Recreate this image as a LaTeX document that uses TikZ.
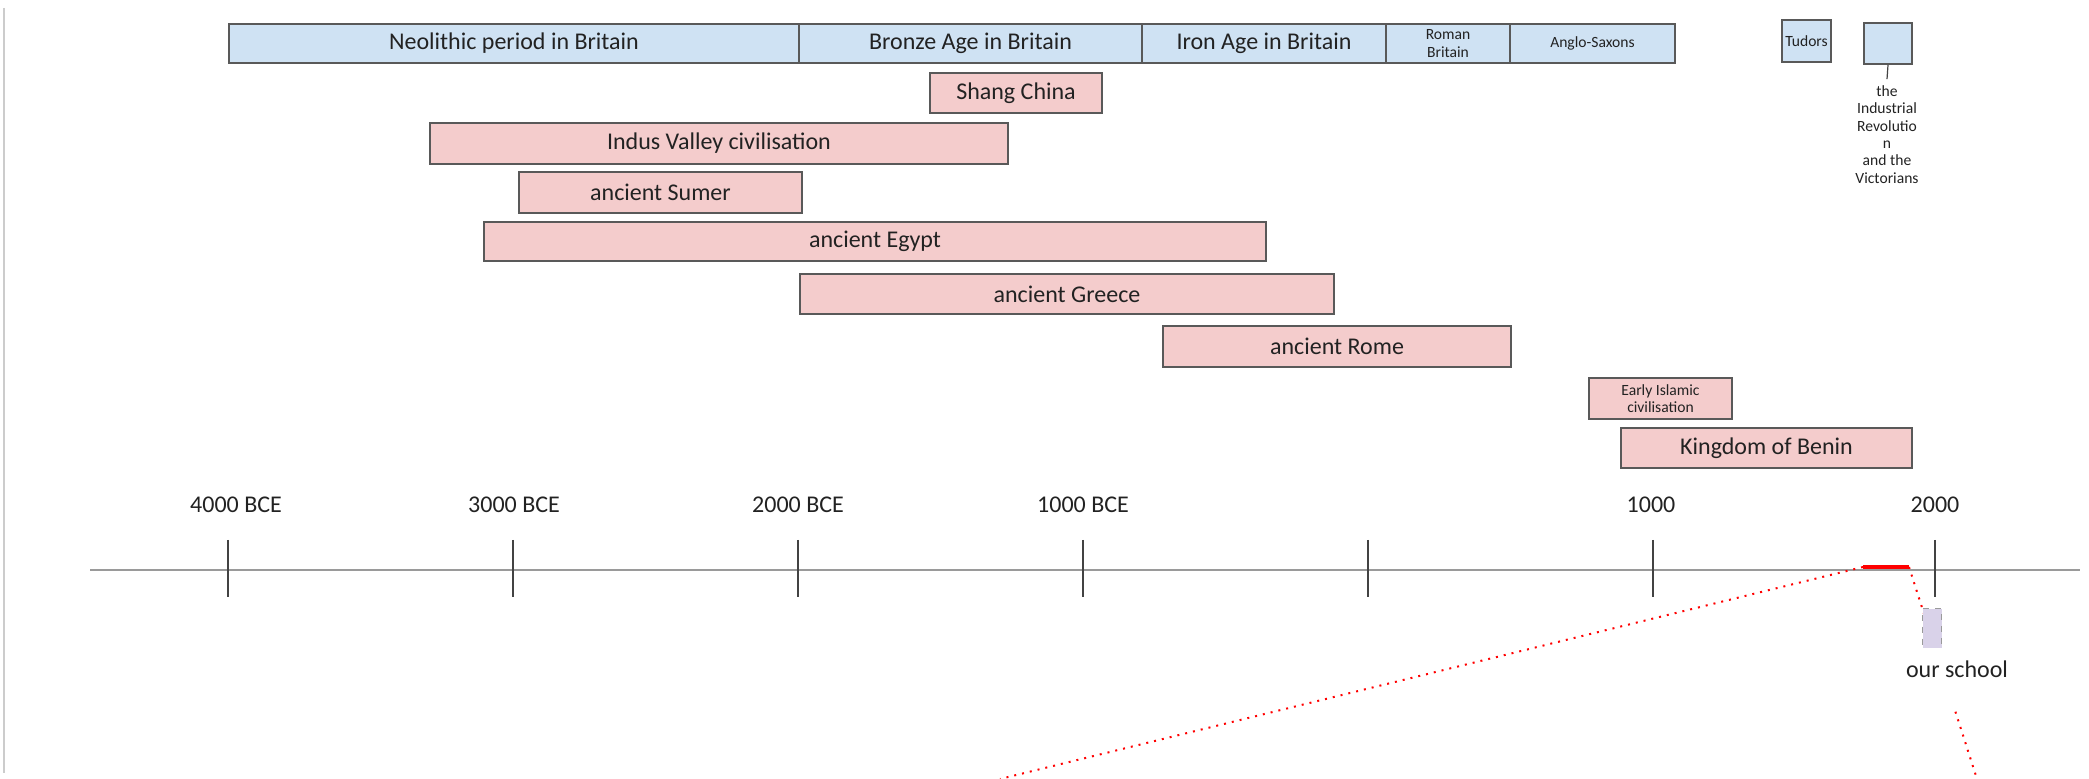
\documentclass[tikz,border=0pt]{standalone}
\usepackage{fontspec}
\setmainfont{Carlito}
\definecolor{bluefill}{HTML}{CFE2F3}
\definecolor{pinkfill}{HTML}{F4CCCC}
\definecolor{lavfill}{HTML}{D9D2E9}
\definecolor{boxline}{HTML}{595959}
\definecolor{txt}{HTML}{222222}
\definecolor{axisgray}{HTML}{9A9A9A}
\definecolor{tickgray}{HTML}{434343}
\definecolor{edgegray}{HTML}{CCCCCC}
\definecolor{redline}{HTML}{FF0000}
\tikzset{
  bigfont/.style={font=\fontsize{12}{14}\selectfont},
  smallfont/.style={font=\fontsize{7.8}{8.7}\selectfont},
  era/.style={draw=boxline, line width=1pt, inner sep=0pt, anchor=north west, text=txt, align=center},
  britain/.style={era, fill=bluefill},
  world/.style={era, fill=pinkfill},
  yearlabel/.style={bigfont, text=txt, inner sep=0pt, anchor=center},
  tickmark/.style={draw=tickgray, line width=0.6pt},
  axisline/.style={draw=axisgray, line width=1.3pt},
  zoomline/.style={draw=redline, line width=1pt, dash pattern=on 1pt off 3pt},
  nowmark/.style={draw=redline, line width=2pt},
}
\begin{document}
\begin{tikzpicture}[x=0.5pt,y=-0.5pt]
\useasboundingbox (0,0) rectangle (2089,779);
% left edge line
\coordinate (edgeT) at (4,8);
\coordinate (edgeB) at (4,773);
\draw[draw=edgegray, line width=1pt] (edgeT) -- (edgeB);

% Britain periods
\node[britain, bigfont, minimum width=285pt, minimum height=19.5pt] (neo) at (228,23) {Neolithic period in Britain};
\node[britain, bigfont, minimum width=171.5pt, minimum height=19.5pt] (bronze) at (798,23) {Bronze Age in Britain};
\node[britain, bigfont, minimum width=122pt, minimum height=19.5pt] (iron) at (1141,23) {Iron Age in Britain};
\node[britain, smallfont, minimum width=62pt, minimum height=19.5pt] (roman) at (1385,23) {Roman\\Britain};
\node[britain, smallfont, minimum width=82.5pt, minimum height=19.5pt] (anglo) at (1509,23) {Anglo-Saxons};
\node[britain, smallfont, minimum width=24.5pt, minimum height=21pt] (tudors) at (1781,19) {Tudors};
\node[britain, minimum width=24pt, minimum height=20.5pt] (indrev) at (1863,22) {};
\node[smallfont, text=txt, align=center, inner sep=3pt, anchor=center] (indtxt) at (1887,134.5)
  {the\\Industrial\\Revolutio\\n\\and the\\Victorians};
\draw[draw=tickgray, line width=0.6pt] (indrev.south) -- (indtxt.north);

% world civilisations
\node[world, bigfont, minimum width=86pt, minimum height=20pt] (shang) at (929,72) {Shang China};
\node[world, bigfont, minimum width=289pt, minimum height=20.5pt] (indus) at (429,122) {Indus Valley civilisation};
\node[world, bigfont, minimum width=141.5pt, minimum height=20.5pt] (sumer) at (518,171) {ancient Sumer};
\node[world, bigfont, minimum width=391pt, minimum height=19.5pt] (egypt) at (483,221) {ancient Egypt};
\node[world, bigfont, minimum width=267pt, minimum height=20pt] (greece) at (799,273) {ancient Greece};
\node[world, bigfont, minimum width=174pt, minimum height=20.5pt] (rome) at (1162,325) {ancient Rome};
\node[world, smallfont, minimum width=71.5pt, minimum height=20.5pt] (islamic) at (1588,377) {Early Islamic\\civilisation};
\node[world, bigfont, minimum width=145.5pt, minimum height=20pt] (benin) at (1620,427) {Kingdom of Benin};

% year labels
\node[yearlabel] (y4000) at (236,505) {4000 BCE};
\node[yearlabel] (y3000) at (514,505) {3000 BCE};
\node[yearlabel] (y2000) at (798,505) {2000 BCE};
\node[yearlabel] (y1000) at (1083,505) {1000 BCE};
\node[yearlabel] (yp1000) at (1651,505) {1000};
\node[yearlabel] (yp2000) at (1935,505) {2000};

% axis
\coordinate (axL) at (90,570);
\coordinate (axR) at (2080,570);
\draw[axisline] (axL) -- (axR);
\foreach \tx in {228,513,798,1083,1368,1653,1935}{
  \draw[tickmark] (\tx,540) -- (\tx,597);
}

% zoom lines from the recent period
\coordinate (rL) at (1863,567);
\coordinate (rR) at (1909,567);
\coordinate (zA) at (1000,779);
\coordinate (zB) at (1977,779);
\draw[zoomline] (rL) -- (zA);
\draw[zoomline] (rR) -- (zB);
\draw[nowmark] (rL) -- (rR);

% our school
\node[draw=axisgray, dashed, line width=0.6pt, fill=lavfill, inner sep=0pt, minimum width=9.5pt, minimum height=20pt, anchor=north west] (sbox) at (1922,608) {};
\node[bigfont, text=txt, fill=white, inner xsep=2pt, inner ysep=0pt, text height=15pt, text depth=16pt, anchor=base] (school) at (1957,678) {our school};
\end{tikzpicture}
\end{document}
